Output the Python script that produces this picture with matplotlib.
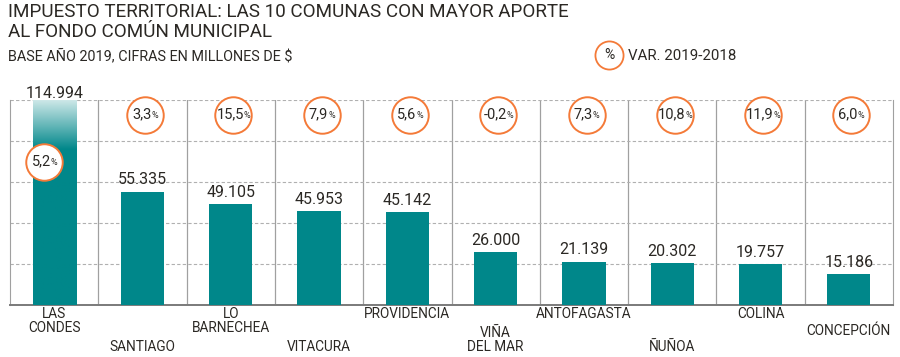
import numpy as np
import matplotlib.pyplot as plt
from matplotlib.transforms import blended_transform_factory
from matplotlib.offsetbox import TextArea, HPacker, AnnotationBbox

plt.rcParams['font.family'] = ['Roboto', 'DejaVu Sans']

comunas = ["LAS\nCONDES", "SANTIAGO", "LO\nBARNECHEA", "VITACURA", "PROVIDENCIA",
           "VIÑA\nDEL MAR", "ANTOFAGASTA", "ÑUÑOA", "COLINA", "CONCEPCIÓN"]
aporte = [114994, 55335, 49105, 45953, 45142, 26000, 21139, 20302, 19757, 15186]
variacion = ["5,2", "3,3", "15,5", "7,9", "5,6", "-0,2", "7,3", "10,8", "11,9", "6,0"]
etiquetas = ["114.994", "55.335", "49.105", "45.953", "45.142",
             "26.000", "21.139", "20.302", "19.757", "15.186"]

teal = "#00878a"
naranjo = "#f47a38"
texto = "#2b2824"
ymax = 100000

W, H = 900, 357
fig = plt.figure(figsize=(9, 3.57), dpi=100)
ax = fig.add_axes([10 / W, 1 - 305 / H, 883 / W, 205 / H])

x = np.arange(len(comunas))
bw = 0.49
bars = ax.bar(x, aporte, width=bw, color=teal, zorder=3)

# primera barra truncada: degradado hacia arriba
bars[0].set_alpha(0)
yy = np.linspace(0, ymax, 200)
t = np.clip((yy - 76000) / 24000, 0, 1) * 0.8
c0 = np.array([0x00, 0x87, 0x8a]) / 255
grad = c0[None, :] * (1 - t[:, None]) + t[:, None]
ax.imshow(grad[:, None, :], extent=(-bw / 2, bw / 2, 0, ymax), origin='lower',
          aspect='auto', zorder=3)

ax.set_xlim(-0.5, len(x) - 0.5)
ax.set_ylim(0, ymax)
ax.set_yticks(np.arange(20000, ymax + 1, 20000))
ax.yaxis.grid(True, color="#b0b0b0", linestyle=(0, (3, 2)), linewidth=0.8, zorder=0)
ax.tick_params(left=False, bottom=False, labelleft=False, labelbottom=False)
ax.spines["top"].set_visible(False)
ax.spines["left"].set_color("#a0a0a0")
ax.spines["right"].set_color("#a0a0a0")
ax.spines["bottom"].set_color("#7a7a7a")
ax.spines["bottom"].set_linewidth(1.4)
for k in x[:-1]:
    ax.axvline(k + 0.5, color="#a0a0a0", linewidth=0.9, zorder=1)

# valores sobre las barras
for i, (v, lab) in enumerate(zip(aporte, etiquetas)):
    yv = min(v, ymax)
    ax.annotate(lab, (i, yv), xytext=(0, 3 if v <= ymax else -1),
                textcoords="offset points", ha="center", va="bottom",
                fontsize=11.5, color=texto, zorder=6)

# circulos con variacion
trans = blended_transform_factory(ax.transData, ax.transAxes)
for i, var in enumerate(variacion):
    if i == 0:
        cx, cy = i - 0.11, 0.70
    else:
        cx, cy = i + 0.03, 0.927
    ax.scatter([cx], [cy], s=690, facecolor="white", edgecolor=naranjo,
               linewidth=1.4, transform=trans, zorder=7, clip_on=False)
    box = HPacker(children=[TextArea(var, textprops=dict(fontsize=10.5, color=texto)),
                            TextArea("%", textprops=dict(fontsize=6.5, color=texto))],
                  align="baseline", pad=0, sep=0)
    ab = AnnotationBbox(box, (cx, cy), xycoords=trans, frameon=False,
                        box_alignment=(0.5, 0.45), zorder=8)
    ax.add_artist(ab)

# nombres de comunas en dos filas
ftrans = blended_transform_factory(ax.transData, fig.transFigure)
for i, nom in enumerate(comunas):
    if i % 2 == 0:
        ax.text(i, 1 - 307 / H, nom, transform=ftrans, ha="center", va="top",
                fontsize=9.8, color=texto, linespacing=1.0)
    else:
        yb = 335 if nom == "CONCEPCIÓN" else 351
        ax.text(i, 1 - yb / H, nom, transform=ftrans, ha="center", va="baseline",
                fontsize=9.8, color=texto, linespacing=1.0)

# titulos y leyenda
fig.text(8 / W, 1 - 3 / H, "IMPUESTO TERRITORIAL: LAS 10 COMUNAS CON MAYOR APORTE\nAL FONDO COMÚN MUNICIPAL",
         ha="left", va="top", fontsize=13.6, color=texto, linespacing=1.15)
fig.text(8 / W, 1 - 49 / H, "BASE AÑO 2019, CIFRAS EN MILLONES DE $",
         ha="left", va="top", fontsize=10.4, color=texto)
ov = fig.add_axes([0, 0, 1, 1], facecolor="none")
ov.set_xlim(0, W)
ov.set_ylim(H, 0)
ov.axis("off")
ov.scatter([609], [55], s=410, facecolor="white", edgecolor=naranjo, linewidth=1.3)
ov.text(609, 55, "%", ha="center", va="center", fontsize=10, color=texto)
ov.text(628, 56, "VAR. 2019-2018", ha="left", va="center", fontsize=10.8, color=texto)

fig.savefig("out.png", dpi=100)
